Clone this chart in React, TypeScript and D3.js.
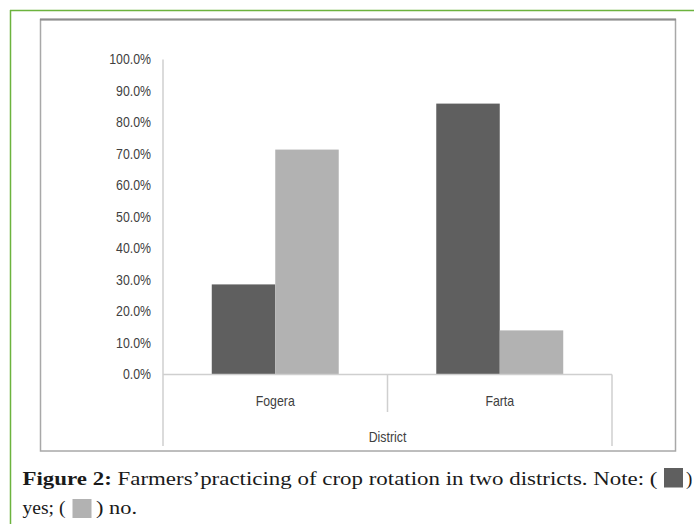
import React from "react";
import * as d3 from "d3";

const categories = ["Fogera", "Farta"];
const seriesNames = ["yes", "no"];
const yesValues = [0.286, 0.86];
const noValues = [0.714, 0.14];
const yTicks = [0, 0.1, 0.2, 0.3, 0.4, 0.5, 0.6, 0.7, 0.8, 0.9, 1.0];
const axisTitle = "District";
const captionBold = "Figure 2:";
const captionLine1 = " Farmers’practicing of crop rotation in two districts. Note: (";
const captionLine2a = "yes; (";
const captionLine2b = ") no.";

function Label({ x, y, anchor, children }: { x: number; y: number; anchor: string; children: React.ReactNode }) {
  return (
    <g transform={`translate(${x},${y}) scale(0.88,1)`}>
      <text
        x={0}
        y={0}
        textAnchor={anchor}
        dominantBaseline="central"
        fontFamily="'Liberation Sans', Arial, sans-serif"
        fontSize={14}
        fill="#404040"
      >
        {children}
      </text>
    </g>
  );
}

export default function App() {
  const W = 694;
  const H = 524;
  const plot = { left: 163, right: 612, top: 59.5, bottom: 374.5 };
  const y = d3.scaleLinear().domain([0, 1]).range([plot.bottom, plot.top]);
  const x0 = d3.scaleBand<string>().domain(categories).range([plot.left, plot.right]);
  const x1 = d3
    .scaleBand<string>()
    .domain(seriesNames)
    .range([0, x0.bandwidth()])
    .paddingInner(0)
    .paddingOuter(0.768);
  const colors: Record<string, string> = { yes: "#5f5f5f", no: "#b2b2b2" };
  const values: Record<string, number[]> = { yes: yesValues, no: noValues };
  const fmt = d3.format(".1%");
  const axisColor = "#cfcfcf";
  const serif = "'Liberation Serif', 'DejaVu Serif', serif";
  const axisBottom = 446;

  return (
    <svg width={W} height={H} style={{ position: "absolute", left: 0, top: 0, background: "#fff" }}>
      {/* page border */}
      <line x1={10} y1={10.5} x2={W} y2={10.5} stroke="#6cb33e" strokeWidth={1.5} />
      <line x1={10.5} y1={10} x2={10.5} y2={H} stroke="#6cb33e" strokeWidth={1.5} />
      {/* chart frame */}
      <rect x={40.5} y={19.5} width={635} height={431.5} fill="#fff" stroke="#a8a8a8" strokeWidth={1.5} />
      <line x1={40} y1={19.5} x2={676} y2={19.5} stroke="#8e8e8e" strokeWidth={2} />

      {/* bars */}
      {categories.map((c, i) =>
        seriesNames.map((s) => {
          const v = values[s][i];
          return (
            <rect
              key={c + s}
              x={(x0(c) ?? 0) + (x1(s) ?? 0)}
              y={y(v)}
              width={x1.bandwidth()}
              height={y(0) - y(v)}
              fill={colors[s]}
            />
          );
        })
      )}

      {/* y axis */}
      <line x1={plot.left} y1={plot.top} x2={plot.left} y2={axisBottom} stroke={axisColor} strokeWidth={1.5} />
      {yTicks.map((t) => (
        <Label key={t} x={151} y={y(t)} anchor="end">
          {fmt(t)}
        </Label>
      ))}

      {/* x axis */}
      <line x1={plot.left} y1={plot.bottom} x2={plot.right} y2={plot.bottom} stroke={axisColor} strokeWidth={1.5} />
      <line x1={plot.right} y1={plot.bottom} x2={plot.right} y2={axisBottom} stroke={axisColor} strokeWidth={1.5} />
      {categories.slice(1).map((c) => (
        <line key={c} x1={x0(c)} y1={plot.bottom} x2={x0(c)} y2={412} stroke={axisColor} strokeWidth={1.5} />
      ))}
      {categories.map((c) => (
        <Label key={c} x={(x0(c) ?? 0) + x0.bandwidth() / 2} y={401} anchor="middle">
          {c}
        </Label>
      ))}
      <Label x={(plot.left + plot.right) / 2} y={437} anchor="middle">
        {axisTitle}
      </Label>

      {/* caption */}
      <text
        x={22.5}
        y={485}
        fontFamily={serif}
        fontSize={19}
        fill="#1a1a1a"
        textLength={635}
        lengthAdjust="spacingAndGlyphs"
      >
        <tspan fontWeight="bold">{captionBold}</tspan>
        <tspan>{captionLine1}</tspan>
      </text>
      <rect x={664} y={468} width={19} height={19.5} fill={colors.yes} />
      <text x={686} y={485} fontFamily={serif} fontSize={19} fill="#1a1a1a">)</text>
      <text
        x={22.5}
        y={514}
        fontFamily={serif}
        fontSize={19}
        fill="#1a1a1a"
        textLength={43}
        lengthAdjust="spacingAndGlyphs"
      >
        {captionLine2a}
      </text>
      <rect x={72.5} y={499} width={19} height={19} fill={colors.no} />
      <text
        x={96}
        y={514}
        fontFamily={serif}
        fontSize={19}
        fill="#1a1a1a"
        textLength={41}
        lengthAdjust="spacingAndGlyphs"
      >
        {captionLine2b}
      </text>
    </svg>
  );
}
